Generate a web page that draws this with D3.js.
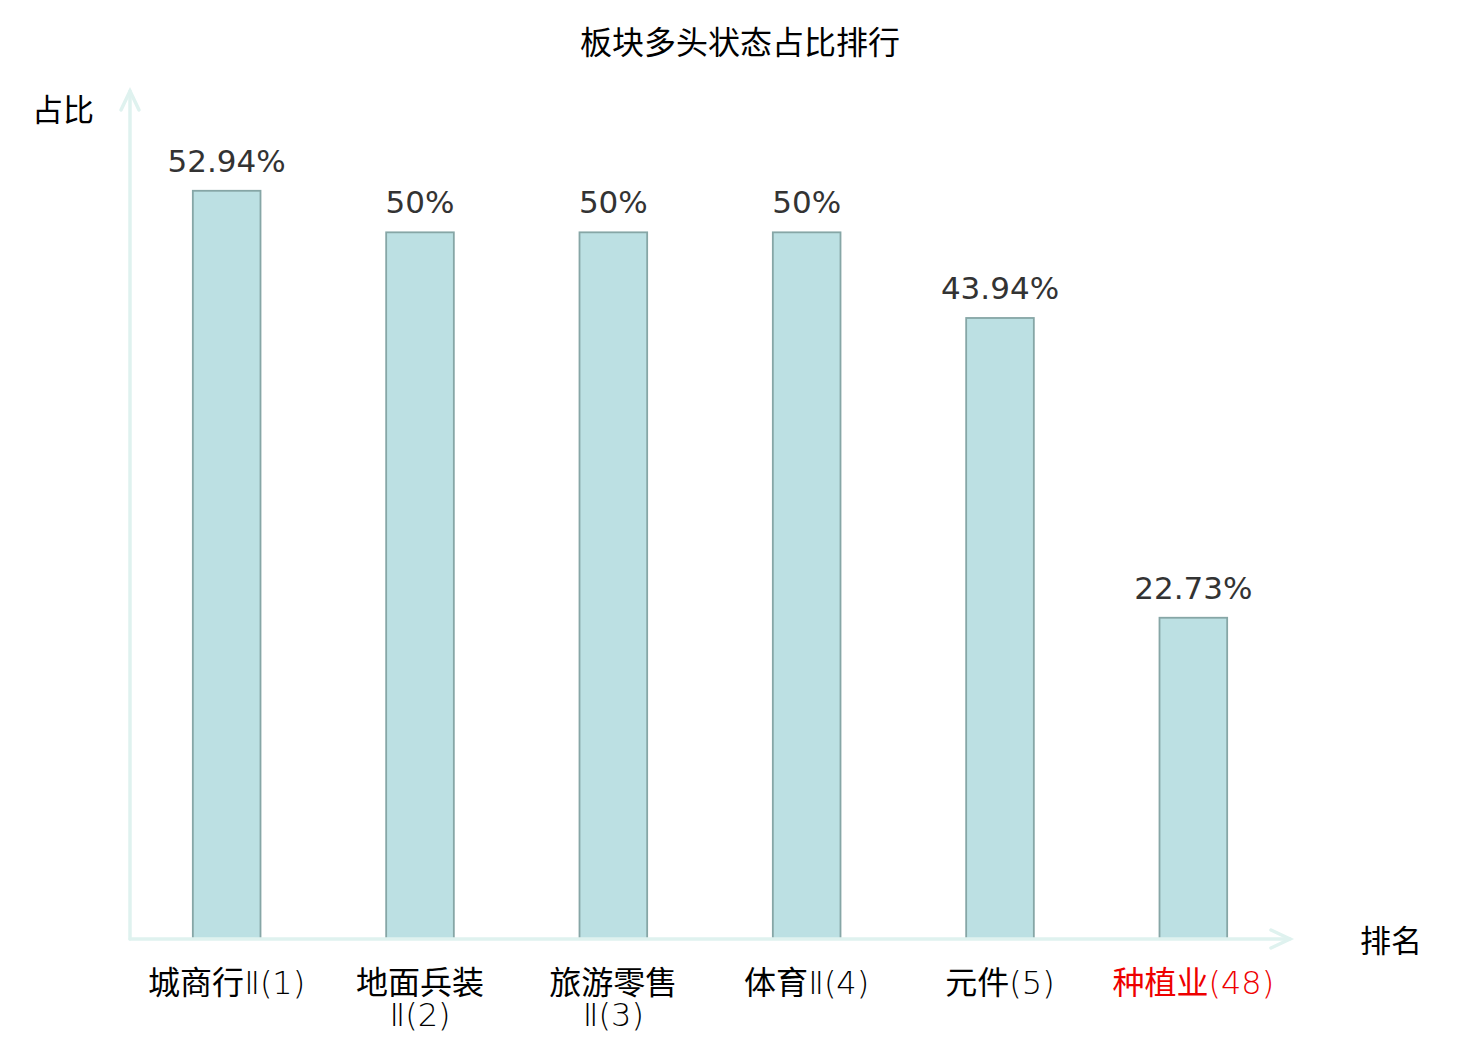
<!DOCTYPE html>
<html>
<head>
<meta charset="utf-8">
<script src="https://cdn.jsdelivr.net/npm/d3@7/dist/d3.min.js"></script>
<style>
  html, body { margin: 0; padding: 0; background: #fff; }
  svg text { font-family: "DejaVu Sans", "Noto Sans CJK SC", sans-serif; }
</style>
</head>
<body>
<div id="chart"></div>
<script>
(function(d3) {

  'use strict';

  var categories = ['城商行Ⅱ(1)', '地面兵装Ⅱ(2)', '旅游零售Ⅱ(3)', '体育Ⅱ(4)', '元件(5)', '种植业(48)'];
  var values = [52.94, 50, 50, 50, 43.94, 22.73];
  var labels = ['52.94%', '50%', '50%', '50%', '43.94%', '22.73%'];
  var highlight = ['种植业(48)'];
  var yMax = 60;

  var width = 1480, height = 1040;
  var left = 130, right = 1290, top = 91, bottom = 939;
  var axisColor = '#dff2ef';
  var cjk = /[\u4e00-\u9fff]/;

  var svg = d3.select('#chart').append('svg')
    .attr('width', width)
    .attr('height', height);

  var x = d3.scaleBand()
    .domain(categories)
    .range([left, right])
    .paddingInner(0.65)
    .paddingOuter(0.325);

  var xc = d3.scaleBand().domain(categories).range([left, right]);

  var y = d3.scaleLinear()
    .domain([0, yMax])
    .range([bottom, top]);

  // title
  svg.append('text')
    .attr('x', width / 2)
    .attr('y', 54)
    .attr('text-anchor', 'middle')
    .style('font-size', '32px')
    .style('fill', '#000')
    .text('板块多头状态占比排行');

  // bars
  svg.selectAll('rect.bar')
    .data(values)
    .enter()
    .append('rect')
    .attr('class', 'bar')
    .attr('x', function(d, i) { return x(categories[i]); })
    .attr('y', function(d) { return y(d); })
    .attr('width', x.bandwidth())
    .attr('height', function(d) { return y(0) - y(d); })
    .style('fill', '#bce0e3')
    .style('stroke', '#86a6a6')
    .style('stroke-width', 1.8);

  // value labels
  svg.selectAll('text.val')
    .data(values)
    .enter()
    .append('text')
    .attr('class', 'val')
    .attr('x', function(d, i) { return xc(categories[i]) + xc.bandwidth() / 2; })
    .attr('y', function(d) { return y(d) - 19; })
    .attr('text-anchor', 'middle')
    .style('font-size', '31px')
    .style('fill', '#333')
    .text(function(d, i) { return labels[i]; });

  // axes
  var ax = svg.append('g')
    .style('stroke', axisColor)
    .style('stroke-width', 3.5)
    .style('fill', 'none')
    .style('stroke-linecap', 'round');

  ax.append('line').attr('x1', left).attr('y1', y(0)).attr('x2', left).attr('y2', y(yMax));
  ax.append('path').attr('d', 'M' + (left - 9) + ',' + (y(yMax) + 19) + 'L' + left + ',' + y(yMax) + 'L' + (left + 9) + ',' + (y(yMax) + 19));
  ax.append('line').attr('x1', left).attr('y1', y(0)).attr('x2', right).attr('y2', y(0));
  ax.append('path').attr('d', 'M' + (right - 19) + ',' + (y(0) - 9) + 'L' + right + ',' + y(0) + 'L' + (right - 19) + ',' + (y(0) + 9));

  // axis names
  svg.append('text')
    .attr('x', 63).attr('y', 121)
    .attr('text-anchor', 'middle')
    .style('font-size', '31px')
    .text('占比');

  svg.append('text')
    .attr('x', 1391).attr('y', 952)
    .attr('text-anchor', 'middle')
    .style('font-size', '31px')
    .text('排名');

  // category labels, wrapped on CJK chars or latin runs
  var maxW = 165;
  var cat = svg.selectAll('text.cat')
    .data(categories)
    .enter()
    .append('text')
    .attr('class', 'cat')
    .attr('text-anchor', 'middle')
    .style('font-size', '32px')
    .style('fill', function(d) { return highlight.indexOf(d) !== -1 ? '#e00' : '#000'; });

  function fillLine(tspan, str) {
    var parts = str.match(/[\u4e00-\u9fff]+|[^\u4e00-\u9fff]+/g) || [];
    parts.forEach(function(p) {
      tspan.append('tspan')
        .style('font-weight', cjk.test(p) ? 400 : 200)
        .text(p);
    });
  }

  cat.each(function(d) {
    var node = d3.select(this);
    var cx = xc(d) + xc.bandwidth() / 2;
    var tokens = d.match(/[\u4e00-\u9fff]|[^\u4e00-\u9fff]+/g);
    var lines = [], cur = '';
    tokens.forEach(function(t) {
      var probe = node.append('tspan');
      fillLine(probe, cur + t);
      var w = probe.node().getComputedTextLength();
      probe.remove();
      if (cur && w > maxW) {
        lines.push(cur);
        cur = t;
      } else {
        cur += t;
      }
    });
    lines.push(cur);
    lines.forEach(function(l, i) {
      var line = node.append('tspan')
        .attr('x', cx)
        .attr('y', 994 + i * 32);
      fillLine(line, l);
    });
  });

})(d3);
</script>
</body>
</html>
